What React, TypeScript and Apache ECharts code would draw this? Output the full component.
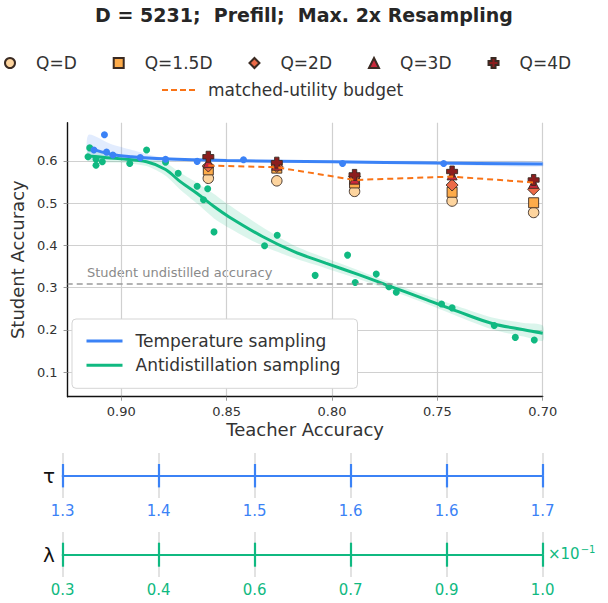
import React, { useEffect, useRef } from "react";
import * as echarts from "echarts";

// ---------- data ----------
const TITLE = "D = 5231;  Prefill;  Max. 2x Resampling";

const xTicks = [0.7, 0.75, 0.8, 0.85, 0.9];
const yTicks = [0.1, 0.2, 0.3, 0.4, 0.5, 0.6];

// Temperature sampling (scatter)
const tempX = [0.908, 0.913, 0.907, 0.904, 0.891, 0.879, 0.864, 0.842, 0.795, 0.747];
const tempY = [0.662, 0.626, 0.621, 0.614, 0.608, 0.604, 0.599, 0.603, 0.594, 0.594];
// Temperature sampling fit + band
const tempFitX = [0.9155, 0.905, 0.895, 0.88, 0.85, 0.8, 0.75, 0.7];
const tempFitY = [0.631, 0.616, 0.61, 0.605, 0.601, 0.598, 0.595, 0.593];
const tempLo = [0.606, 0.603, 0.601, 0.6, 0.598, 0.595, 0.591, 0.587];
const tempHi = [0.662, 0.64, 0.626, 0.608, 0.604, 0.601, 0.6, 0.599];

// Antidistillation sampling (scatter)
const antiX = [0.915, 0.9158, 0.912, 0.912, 0.909, 0.896, 0.888, 0.879, 0.873, 0.864, 0.859, 0.861, 0.856, 0.832, 0.826, 0.808, 0.7926, 0.789, 0.779, 0.773, 0.7695, 0.748, 0.743, 0.723, 0.713, 0.704];
const antiY = [0.631, 0.61, 0.604, 0.59, 0.598, 0.594, 0.626, 0.597, 0.571, 0.54, 0.534, 0.508, 0.432, 0.399, 0.424, 0.329, 0.377, 0.312, 0.332, 0.302, 0.289, 0.261, 0.252, 0.21, 0.182, 0.176];
// Antidistillation fit + band
const antiFitX = [0.9158, 0.9, 0.888, 0.879, 0.872, 0.864, 0.856, 0.849, 0.833, 0.818, 0.803, 0.787, 0.774, 0.755, 0.74, 0.724, 0.709, 0.7];
const antiFitY = [0.612, 0.605, 0.598, 0.58, 0.551, 0.523, 0.492, 0.468, 0.421, 0.385, 0.358, 0.33, 0.306, 0.271, 0.243, 0.215, 0.2, 0.192];
const antiHi = [0.624, 0.614, 0.608, 0.596, 0.572, 0.548, 0.522, 0.496, 0.443, 0.4, 0.37, 0.34, 0.315, 0.281, 0.255, 0.229, 0.216, 0.21];
const antiLo = [0.6, 0.596, 0.588, 0.565, 0.532, 0.499, 0.464, 0.442, 0.399, 0.37, 0.346, 0.32, 0.297, 0.261, 0.231, 0.201, 0.184, 0.174];

// Q clusters
const qX = [0.8587, 0.8262, 0.7893, 0.743, 0.7043];
const qD = [0.559, 0.553, 0.528, 0.505, 0.478];
const q15D = [0.579, 0.583, 0.548, 0.526, 0.501];
const q2D = [0.588, 0.587, 0.563, 0.543, 0.533];
const q3D = [0.596, 0.59, 0.557, 0.567, 0.547];
const q4D = [0.61, 0.596, 0.567, 0.575, 0.555];
const budgetY = [0.589, 0.585, 0.555, 0.563, 0.549];

const undistilled = 0.31;

const tauLabels = ["1.3", "1.4", "1.5", "1.6", "1.6", "1.7"];
const lambdaLabels = ["0.3", "0.4", "0.6", "0.7", "0.9", "1.0"];

// ---------- styling ----------
const FONT = "DejaVu Sans";
const BLUE = "#3b82f6";
const GREEN = "#10b981";
const ORANGE = "#f97316";
const GRID_GRAY = "#d0d0d0";
const TXT = "#333333";
const PLUS = "path://M3,0H7V3H10V7H7V10H3V7H0V3H3Z";

const X_MIN = 0.7;
const X_MAX = 0.9255;
const Y_MIN = 0.0415;
const Y_MAX = 0.6907;

const pairs = (xs: number[], ys: number[]) => xs.map((x, i) => [x, ys[i]]);

function buildOption() {
  const band = (xs: number[], lo: number[], hi: number[], color: string) => ({
    type: "custom",
    coordinateSystem: "cartesian2d",
    xAxisIndex: 0,
    yAxisIndex: 0,
    data: xs.map((x, i) => [x, lo[i], hi[i]]),
    encode: { x: 0, y: [1, 2] },
    silent: true,
    clip: true,
    z: 1,
    renderItem: (params: any, api: any) => {
      if (params.dataIndex !== 0) return null;
      const top = xs.map((x, i) => api.coord([x, hi[i]]));
      const bot = xs.map((x, i) => api.coord([x, lo[i]])).reverse();
      return {
        type: "polygon",
        shape: { points: top.concat(bot), smooth: 0.25 },
        style: { fill: color, stroke: "none" },
        silent: true,
      };
    },
  });

  const qSeries = (name: string, ys: number[], symbol: string, size: number, color: string, z: number) => ({
    name,
    type: "scatter",
    xAxisIndex: 0,
    yAxisIndex: 0,
    data: pairs(qX, ys),
    symbol,
    symbolSize: size,
    itemStyle: { color, borderColor: "#3a2a22", borderWidth: 0.9, opacity: 1 },
    z,
  });

  const bottomX = (gi: number, opts: any) => ({
    type: "value",
    gridIndex: gi,
    min: 0,
    max: 5,
    interval: 1,
    axisLine: { show: false },
    axisTick: { show: false },
    axisLabel: { show: false },
    splitLine: { show: false },
    ...opts,
  });
  const hiddenY = (gi: number) => ({
    type: "value",
    gridIndex: gi,
    min: 0,
    max: 1,
    show: false,
    splitLine: { show: false },
  });
  const bottomLabel = (color: string, labels: string[]) => ({
    show: true,
    color,
    fontSize: 15,
    fontFamily: FONT,
    margin: 28,
    formatter: (v: number) => labels[Math.round(v)] ?? "",
  });

  const gtext = (text: string, x: number, y: number, fill: string, size: number, align = "center") => ({
    type: "text",
    x,
    y,
    silent: true,
    style: {
      text,
      fill,
      font: `${size}px "${FONT}"`,
      align,
      verticalAlign: "middle",
      textAlign: align,
      textVerticalAlign: "middle",
    },
  });

  return {
    animation: false,
    backgroundColor: "#ffffff",
    textStyle: { fontFamily: FONT },
    title: {
      text: TITLE,
      left: "center",
      top: 0,
      textStyle: { fontFamily: FONT, fontSize: 19, fontWeight: "bold", color: "#262626" },
    },
    legend: [
      {
        data: [
          { name: "Q=D", icon: "circle" },
          { name: "Q=1.5D", icon: "rect" },
          { name: "Q=2D", icon: "diamond" },
          { name: "Q=3D", icon: "triangle" },
          { name: "Q=4D", icon: PLUS },
        ],
        left: 4,
        top: 53,
        padding: 0,
        itemWidth: 10,
        itemHeight: 10,
        itemGap: 36,
        selectedMode: false,
        textStyle: { fontFamily: FONT, fontSize: 17, color: TXT, padding: [0, 0, 0, 16], lineHeight: 20 },
      },
      {
        data: ["matched-utility budget"],
        left: 161,
        top: 80,
        padding: 0,
        itemWidth: 34,
        itemHeight: 14,
        selectedMode: false,
        itemStyle: { opacity: 0 },
        lineStyle: { width: 2, type: [6, 3] },
        textStyle: { fontFamily: FONT, fontSize: 17, color: TXT, padding: [0, 0, 0, 7], lineHeight: 20 },
      },
      {
        data: ["Temperature sampling", "Antidistillation sampling"],
        orient: "vertical",
        left: 72,
        top: 319,
        padding: [12, 17, 13, 13],
        itemWidth: 36,
        itemHeight: 14,
        itemGap: 4.3,
        backgroundColor: "#ffffff",
        borderColor: "#d5d5d5",
        borderWidth: 1,
        borderRadius: 4,
        selectedMode: false,
        itemStyle: { opacity: 0 },
        lineStyle: { width: 3 },
        textStyle: { fontFamily: FONT, fontSize: 17, color: TXT, padding: [0, 0, 0, 8], lineHeight: 20 },
      },
    ],
    grid: [
      { left: 62.7, top: 122.7, width: 480, height: 274 },
      // tau: gray, colored upper half (with line + labels), colored lower half
      { left: 62.7, top: 453, width: 480, height: 45 },
      { left: 62.7, top: 464, width: 480, height: 11.7 },
      { left: 62.7, top: 475.7, width: 480, height: 11.7 },
      // lambda
      { left: 62.7, top: 532, width: 480, height: 45 },
      { left: 62.7, top: 542.7, width: 480, height: 12 },
      { left: 62.7, top: 554.7, width: 480, height: 12 },
    ],
    xAxis: [
      {
        type: "value",
        gridIndex: 0,
        inverse: true,
        min: X_MIN,
        max: X_MAX,
        name: "Teacher Accuracy",
        nameLocation: "middle",
        nameGap: 24,
        nameTextStyle: { fontFamily: FONT, fontSize: 18, color: TXT },
        axisLine: { show: true, onZero: false, lineStyle: { color: "#111", width: 1.4 } },
        axisTick: { show: true, length: 4, customValues: xTicks, lineStyle: { color: "#999" } },
        axisLabel: {
          customValues: xTicks,
          formatter: (v: number) => v.toFixed(2),
          fontFamily: FONT,
          fontSize: 13,
          color: TXT,
          margin: 8,
        },
        splitLine: { show: true, lineStyle: { color: GRID_GRAY, width: 1.2 } },
      },
      bottomX(1, { splitLine: { show: true, lineStyle: { color: "#d9d9d9", width: 1.5 } } }),
      bottomX(2, {
        axisLine: { show: true, onZero: false, lineStyle: { color: BLUE, width: 2.2 } },
        splitLine: { show: true, lineStyle: { color: BLUE, width: 2.2 } },
        axisLabel: bottomLabel(BLUE, tauLabels),
      }),
      bottomX(3, { splitLine: { show: true, lineStyle: { color: BLUE, width: 2.2 } } }),
      bottomX(4, { splitLine: { show: true, lineStyle: { color: "#d9d9d9", width: 1.5 } } }),
      bottomX(5, {
        axisLine: { show: true, onZero: false, lineStyle: { color: GREEN, width: 2.2 } },
        splitLine: { show: true, lineStyle: { color: GREEN, width: 2.2 } },
        axisLabel: bottomLabel(GREEN, lambdaLabels),
      }),
      bottomX(6, { splitLine: { show: true, lineStyle: { color: GREEN, width: 2.2 } } }),
    ],
    yAxis: [
      {
        type: "value",
        gridIndex: 0,
        min: Y_MIN,
        max: Y_MAX,
        name: "Student Accuracy",
        nameLocation: "middle",
        nameGap: 33,
        nameTextStyle: { fontFamily: FONT, fontSize: 18, color: TXT },
        axisLine: { show: true, onZero: false, lineStyle: { color: "#111", width: 1.4 } },
        axisTick: { show: true, length: 4, customValues: yTicks, lineStyle: { color: "#999" } },
        axisLabel: {
          customValues: yTicks,
          formatter: (v: number) => v.toFixed(1),
          fontFamily: FONT,
          fontSize: 13,
          color: TXT,
          margin: 10,
        },
        splitLine: { show: true, lineStyle: { color: GRID_GRAY, width: 1.2 } },
      },
      hiddenY(1),
      hiddenY(2),
      hiddenY(3),
      hiddenY(4),
      hiddenY(5),
      hiddenY(6),
    ],
    graphic: [
      gtext("Student undistilled accuracy", 87, 272, "#8a8a8a", 13, "left"),
      gtext("τ", 49, 475.7, "#111", 20),
      gtext("λ", 49, 554.7, "#111", 20),
      {
        type: "text",
        x: 548,
        y: 554,
        silent: true,
        style: {
          text: "{a|×10}{b|−1}",
          fill: GREEN,
          font: `15px "${FONT}"`,
          align: "left",
          verticalAlign: "middle",
          textAlign: "left",
          textVerticalAlign: "middle",
          rich: {
            a: { fontSize: 15, fontFamily: FONT, fill: GREEN, color: GREEN },
            b: { fontSize: 10, fontFamily: FONT, fill: GREEN, color: GREEN, padding: [0, 0, 9, 1] },
          },
        },
      },
    ],
    series: [
      band(antiFitX, antiLo, antiHi, "rgba(16,185,129,0.15)"),
      band(tempFitX, tempLo, tempHi, "rgba(59,130,246,0.15)"),
      {
        name: "Antidistillation sampling",
        type: "line",
        xAxisIndex: 0,
        yAxisIndex: 0,
        data: pairs(antiFitX, antiFitY),
        symbol: "none",
        smooth: 0.35,
        lineStyle: { color: GREEN, width: 3 },
        itemStyle: { color: GREEN },
        z: 3,
        markLine: {
          silent: true,
          symbol: "none",
          label: { show: false },
          lineStyle: { color: "#9a9a9a", type: [6, 4], width: 1.5 },
          data: [{ yAxis: undistilled }],
        },
      },
      {
        name: "Temperature sampling",
        type: "line",
        xAxisIndex: 0,
        yAxisIndex: 0,
        data: pairs(tempFitX, tempFitY),
        symbol: "none",
        smooth: 0.35,
        lineStyle: { color: BLUE, width: 3 },
        itemStyle: { color: BLUE },
        z: 3,
      },
      {
        name: "anti-points",
        type: "scatter",
        xAxisIndex: 0,
        yAxisIndex: 0,
        data: pairs(antiX, antiY),
        symbol: "circle",
        symbolSize: 7,
        itemStyle: { color: GREEN, opacity: 1 },
        z: 4,
      },
      {
        name: "temp-points",
        type: "scatter",
        xAxisIndex: 0,
        yAxisIndex: 0,
        data: pairs(tempX, tempY),
        symbol: "circle",
        symbolSize: 7,
        itemStyle: { color: BLUE, opacity: 1 },
        z: 4,
      },
      qSeries("Q=D", qD, "circle", 10.5, "#fdd49e", 5),
      qSeries("Q=1.5D", q15D, "rect", 10, "#fdab4a", 6),
      qSeries("Q=2D", q2D, "diamond", 12, "#ec6a47", 7),
      qSeries("Q=3D", q3D, "triangle", 10, "#c9283a", 8),
      qSeries("Q=4D", q4D, PLUS, 11, "#8c1d1d", 9),
      {
        name: "matched-utility budget",
        type: "line",
        xAxisIndex: 0,
        yAxisIndex: 0,
        data: pairs(qX, budgetY),
        symbol: "none",
        lineStyle: { color: ORANGE, width: 2, type: [6, 4] },
        itemStyle: { color: ORANGE },
        z: 10,
      },
    ],
  };
}

export default function App() {
  const ref = useRef<HTMLDivElement>(null);
  useEffect(() => {
    if (!ref.current) return;
    const chart = echarts.init(ref.current, undefined, { renderer: "svg" });
    chart.setOption(buildOption() as any);
    return () => chart.dispose();
  }, []);
  return (
    <div
      ref={ref}
      style={{ position: "fixed", left: 0, top: 0, width: 608, height: 603, background: "#fff" }}
    />
  );
}
